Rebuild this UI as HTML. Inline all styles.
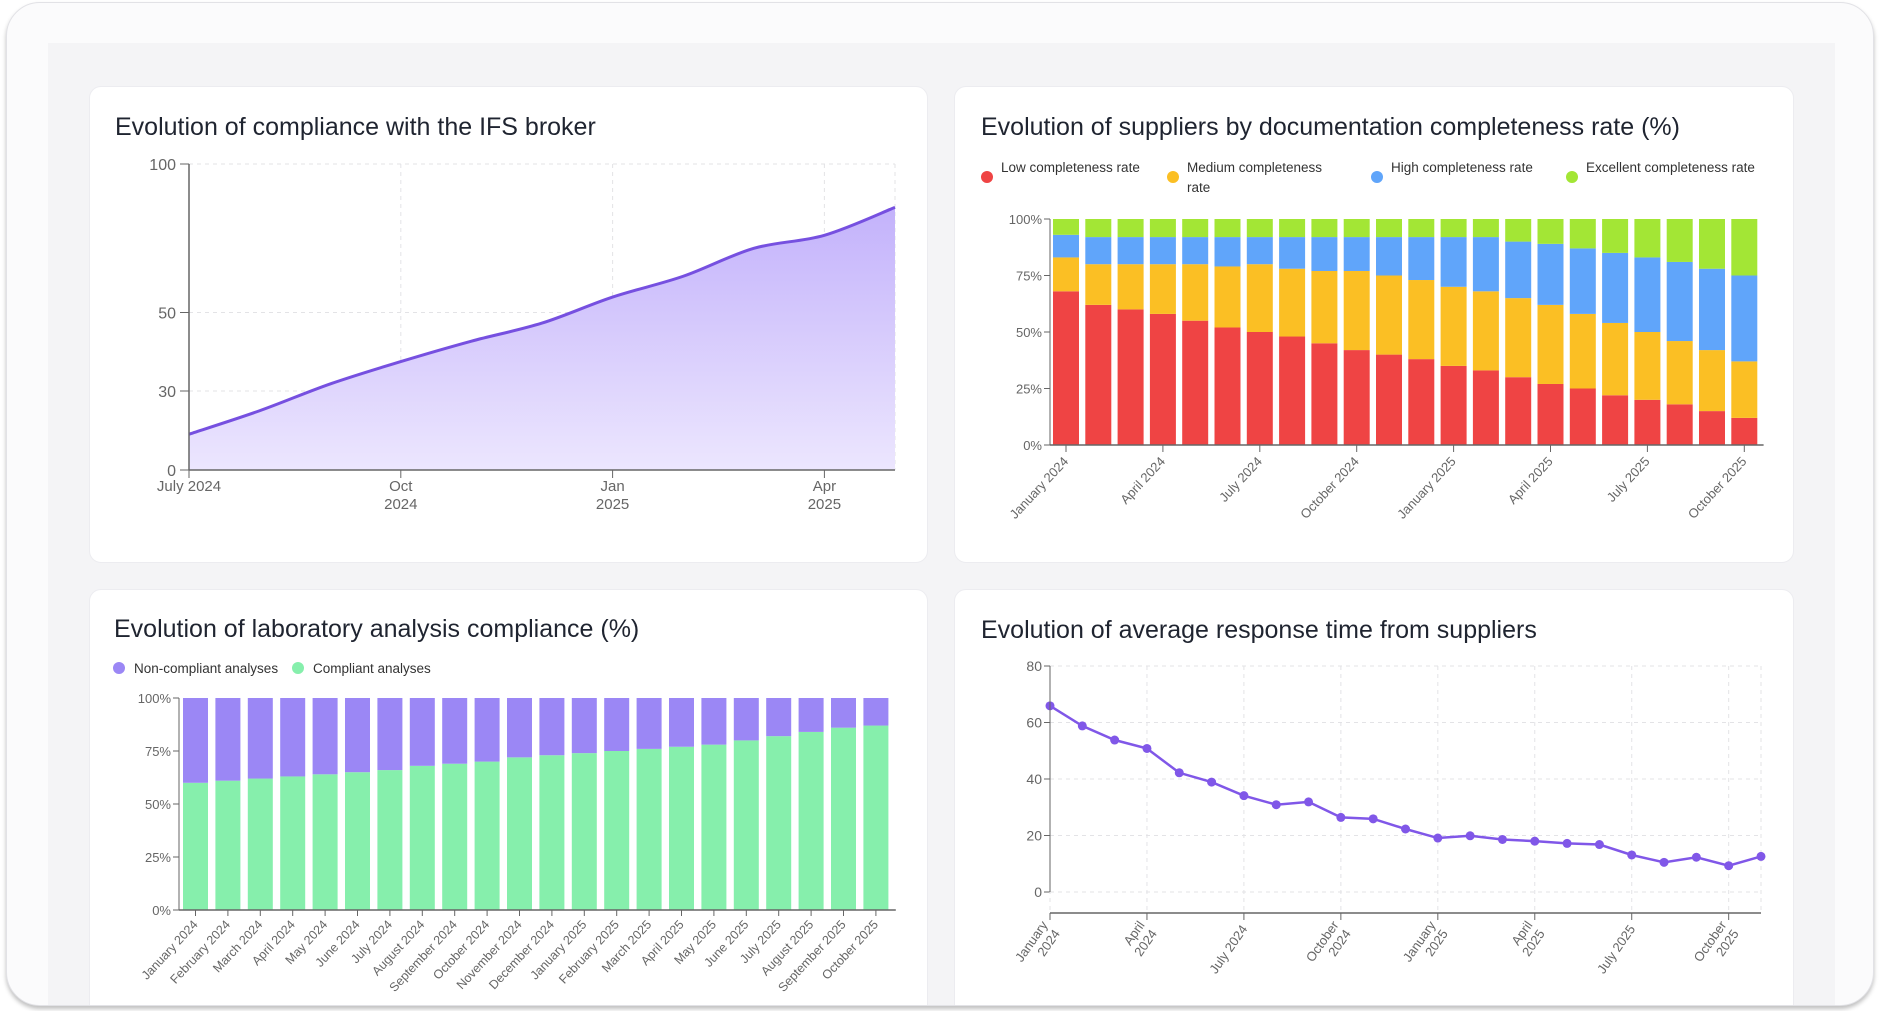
<!DOCTYPE html>
<html><head><meta charset="utf-8"><style>
html,body{margin:0;padding:0;background:#fff;width:1881px;height:1011px;overflow:hidden;font-family:"Liberation Sans",sans-serif}
#frame{position:absolute;left:6px;top:2px;width:1866px;height:1002px;border:1px solid #e2e2e6;border-radius:34px;background:#fbfbfc;box-shadow:0 3px 4px rgba(0,0,0,.25);overflow:hidden}
#inner{position:absolute;left:-7px;top:-3px;width:1881px;height:1011px}
#panel{position:absolute;left:48px;top:43px;width:1787px;height:970px;background:#f4f4f6}
.card{position:absolute;background:#fff;border:1px solid #ececf0;border-radius:12px}
svg{position:absolute;left:0;top:0}
text{font-family:"Liberation Sans",sans-serif}
</style></head><body>
<div id="frame">
<div id="inner">
<div id="panel"></div>
<div class="card" style="left:89px;top:86px;width:837px;height:475px"></div>
<div class="card" style="left:954px;top:86px;width:838px;height:475px"></div>
<div class="card" style="left:89px;top:589px;width:837px;height:430px"></div>
<div class="card" style="left:954px;top:589px;width:838px;height:430px"></div>
<svg id="s" width="1881" height="1011" xmlns="http://www.w3.org/2000/svg">
<defs><linearGradient id="g1" x1="0" y1="0" x2="0" y2="1"><stop offset="0" stop-color="#c3b2fb"/><stop offset="1" stop-color="#ece6fe"/></linearGradient></defs>
<text x="115" y="135" font-size="25" fill="#1f2430">Evolution of compliance with the IFS broker</text>
<text x="981" y="135" font-size="25" fill="#1f2430">Evolution of suppliers by documentation completeness rate (%)</text>
<text x="114" y="637" font-size="25" fill="#1f2430">Evolution of laboratory analysis compliance (%)</text>
<text x="981" y="638" font-size="25" fill="#1f2430">Evolution of average response time from suppliers</text>
</svg>
</div>
</div>
<script>
// ---- Chart 1 data ----
const c1Months=["Jul","Aug","Sep","Oct","Nov","Dec","Jan","Feb","Mar","Apr","May"];
const c1Values=[13.6,22.5,31.8,37.5,42.7,47.3,55.2,62.2,71.6,76.0,85.4];
const c1Ticks=[0,30,50,100];
const c1XLabels=[["July 2024"],["Oct","2024"],["Jan","2025"],["Apr","2025"]];
const c1XLabelIdx=[0,3,6,9];
// ---- Chart 2 data ----
const c2Cats=["January 2024","February 2024","March 2024","April 2024","May 2024","June 2024","July 2024","August 2024","September 2024","October 2024","November 2024","December 2024","January 2025","February 2025","March 2025","April 2025","May 2025","June 2025","July 2025","August 2025","September 2025","October 2025"];
const c2Low=[68,62,60,58,55,52,50,48,45,42,40,38,35,33,30,27,25,22,20,18,15,12];
const c2Med=[15,18,20,22,25,27,30,30,32,35,35,35,35,35,35,35,33,32,30,28,27,25];
const c2High=[10,12,12,12,12,13,12,14,15,15,17,19,22,24,25,27,29,31,33,35,36,38];
const c2Exc=[7,8,8,8,8,8,8,8,8,8,8,8,8,8,10,11,13,15,17,19,22,25];
const c2Ticks=[0,25,50,75,100];
// ---- Chart 3 data ----
const c3Cats=c2Cats;
const c3Compliant=[60,61,62,63,64,65,66,68,69,70,72,73,74,75,76,77,78,80,82,84,86,87];
const c3Non=[40,39,38,37,36,35,34,32,31,30,28,27,26,25,24,23,22,20,18,16,14,13];
// ---- Chart 4 data ----
const c4Values=[65.9,58.8,53.8,50.8,42.2,38.9,34.1,30.9,31.9,26.4,25.9,22.3,19.1,19.9,18.6,18.0,17.2,16.8,13.1,10.5,12.3,9.3,12.6];
const c4Ticks=[0,20,40,60,80];
const c4XLabels=[["January","2024"],["April","2024"],["July 2024"],["October","2024"],["January","2025"],["April","2025"],["July 2025"],["October","2025"]];
const c4XLabelIdx=[0,3,6,9,12,15,18,21];

const NS="http://www.w3.org/2000/svg",S=document.getElementById('s');
function mk(t,a,p){const e=document.createElementNS(NS,t);for(const k in a)e.setAttribute(k,a[k]);(p||S).appendChild(e);return e;}

// ===== Chart 1 =====
(function(){
const X0=189,X1=895,step=(X1-X0)/(c1Values.length-1);
const tickPx=[470,391,312.5,164];
const x=i=>X0+i*step;
const y=v=>{for(let k=0;k<c1Ticks.length-1;k++){if(v<=c1Ticks[k+1]){const t=(v-c1Ticks[k])/(c1Ticks[k+1]-c1Ticks[k]);return tickPx[k]+t*(tickPx[k+1]-tickPx[k]);}}return tickPx[3];};
c1Ticks.forEach((t,i)=>{
 if(t>0){const g=mk('line',{x1:X0,x2:X1,y1:y(t),y2:y(t),stroke:'#e3e3e6','stroke-dasharray':'4 4'});
 }
 mk('line',{x1:X0-9,x2:X0,y1:y(t),y2:y(t),stroke:'#666'});
 const l=mk('text',{x:X0-13,y:y(t)+6,'text-anchor':'end','font-size':16,fill:'#666'});l.textContent=t;
 
});
c1XLabelIdx.forEach((ix,j)=>{
 if(ix>0)mk('line',{x1:x(ix),x2:x(ix),y1:164,y2:470,stroke:'#e3e3e6','stroke-dasharray':'4 4'});
 mk('line',{x1:x(ix),x2:x(ix),y1:470,y2:478,stroke:'#666'});
 c1XLabels[j].forEach((s,k)=>{const l=mk('text',{x:x(ix),y:491+k*18,'text-anchor':'middle','font-size':15,fill:'#666'});l.textContent=s;
 });
});
mk('line',{x1:X1,x2:X1,y1:164,y2:470,stroke:'#e3e3e6','stroke-dasharray':'4 4'});
const pts=c1Values.map((v,i)=>[x(i),y(v)]);
let d='M'+pts[0][0]+','+pts[0][1];
for(let i=0;i<pts.length-1;i++){const p0=pts[i-1]||pts[i],p1=pts[i],p2=pts[i+1],p3=pts[i+2]||p2;
 d+=` C${p1[0]+(p2[0]-p0[0])/6},${p1[1]+(p2[1]-p0[1])/6} ${p2[0]-(p3[0]-p1[0])/6},${p2[1]-(p3[1]-p1[1])/6} ${p2[0]},${p2[1]}`;}
const a=mk('path',{d:d+` L${X1},470 L${X0},470 Z`,fill:'url(#g1)'});

const ln=mk('path',{d:d,fill:'none',stroke:'#7650e0','stroke-width':3});

mk('line',{x1:X0,x2:X0,y1:164,y2:470,stroke:'#666','stroke-width':1.5});
mk('line',{x1:X0,x2:X1,y1:470,y2:470,stroke:'#666','stroke-width':1.5});
})();

// ===== Chart 2 =====
(function(){
const X0=1050,Y0=445,Y1=219,step=32.3,bw=26,off=3;
const y=v=>Y0-(v/100)*(Y0-Y1);
const cols=['#ef4444','#fbbf24','#60a5fa','#a3e635'];
const series=[c2Low,c2Med,c2High,c2Exc];
const names=['Low completeness rate','Medium completeness','High completeness rate','Excellent completeness rate'];
const lx=[987,1173,1377,1572];
names.forEach((n,i)=>{const c=mk('circle',{cx:lx[i],cy:177,r:6,fill:cols[i]});
 const t=mk('text',{x:lx[i]+14,y:172,'font-size':13.5,fill:'#333'});t.textContent=n;});
const t2=mk('text',{x:1187,y:192,'font-size':13.5,fill:'#333'});t2.textContent='rate';
c2Ticks.forEach(t=>{mk('line',{x1:X0-6,x2:X0,y1:y(t),y2:y(t),stroke:'#666'});
 const l=mk('text',{x:X0-8,y:y(t)+5,'text-anchor':'end','font-size':13,fill:'#666'});l.textContent=t+'%';
 });
c2Cats.forEach((c,i)=>{let acc=0;const bx=X0+off+i*step;
 series.forEach((s,k)=>{const r=mk('rect',{x:bx,y:y(acc+s[i]),width:bw,height:y(acc)-y(acc+s[i]),fill:cols[k]});
 acc+=s[i];});
 if(i%3===0){const cx=bx+bw/2;mk('line',{x1:cx,x2:cx,y1:Y0,y2:Y0+7,stroke:'#666'});
 const l=mk('text',{x:cx+3,y:Y0+17,'text-anchor':'end','font-size':13,fill:'#666',transform:`rotate(-47 ${cx+3} ${Y0+17})`});l.textContent=c;
 }
});
mk('line',{x1:X0,x2:X0,y1:Y1,y2:Y0,stroke:'#666'});
mk('line',{x1:X0,x2:X0+off+22*step,y1:Y0,y2:Y0,stroke:'#666','stroke-width':1.5});
})();

// ===== Chart 3 =====
(function(){
const X0=179,Y0=910,Y1=698,step=32.4,bw=25,off=4;
const y=v=>Y0-(v/100)*(Y0-Y1);
[['Non-compliant analyses','#9b87f5',119],['Compliant analyses','#86efac',298]].forEach(e=>{
 const c=mk('circle',{cx:e[2],cy:668,r:6,fill:e[1]});
 const t=mk('text',{x:e[2]+15,y:673,'font-size':13.5,fill:'#333'});t.textContent=e[0];});
c2Ticks.forEach(t=>{mk('line',{x1:X0-6,x2:X0,y1:y(t),y2:y(t),stroke:'#666'});
 const l=mk('text',{x:X0-8,y:y(t)+5,'text-anchor':'end','font-size':13,fill:'#666'});l.textContent=t+'%';
 });
c3Cats.forEach((c,i)=>{const bx=X0+off+i*step;
 const g=mk('rect',{x:bx,y:y(c3Compliant[i]),width:bw,height:Y0-y(c3Compliant[i]),fill:'#86efac'});
 
 const p=mk('rect',{x:bx,y:y(c3Compliant[i]+c3Non[i]),width:bw,height:y(c3Compliant[i])-y(c3Compliant[i]+c3Non[i]),fill:'#9b87f5'});
 
 const cx=bx+bw/2;mk('line',{x1:cx,x2:cx,y1:Y0,y2:Y0+6,stroke:'#666'});
 const l=mk('text',{x:cx+3,y:Y0+15,'text-anchor':'end','font-size':12.5,fill:'#666',transform:`rotate(-47 ${cx+3} ${Y0+15})`});l.textContent=c;
 });
mk('line',{x1:X0,x2:X0,y1:Y1,y2:Y0,stroke:'#666'});
mk('line',{x1:X0,x2:X0+off+22*step,y1:Y0,y2:Y0,stroke:'#666','stroke-width':1.5});
})();

// ===== Chart 4 =====
(function(){
const X0=1050,X1=1761,YT=666,YB=892,AX=913,step=(X1-X0)/(c4Values.length-1);
const x=i=>X0+i*step,y=v=>YB-(v/80)*(YB-YT);
c4Ticks.forEach(t=>{mk('line',{x1:X0,x2:X1,y1:y(t),y2:y(t),stroke:'#e3e3e6','stroke-dasharray':'4 4'});
 mk('line',{x1:X0-6,x2:X0,y1:y(t),y2:y(t),stroke:'#666'});
 const l=mk('text',{x:X0-8,y:y(t)+5,'text-anchor':'end','font-size':14,fill:'#666'});l.textContent=t;
 });
c4XLabelIdx.forEach((ix,j)=>{const cx=x(ix);
 mk('line',{x1:cx,x2:cx,y1:YT,y2:AX,stroke:'#e3e3e6','stroke-dasharray':'4 4'});
 mk('line',{x1:cx,x2:cx,y1:AX,y2:AX+7,stroke:'#666'});
 const lines=c4XLabels[j];
 const ax=cx+4, ay=AX+16;
 const g=mk('g',{transform:`rotate(-55 ${ax} ${ay})`});
 lines.forEach((s,k)=>{
  const dy=(k-(lines.length-1))*15+ (lines.length>1?8:0);
  const l=mk('text',{x:ax,y:ay+dy,'text-anchor':'end','font-size':13,fill:'#666'},g);
  l.textContent=s;});
});
mk('line',{x1:X1,x2:X1,y1:YT,y2:AX,stroke:'#e3e3e6','stroke-dasharray':'4 4'});
const d=c4Values.map((v,i)=>(i?'L':'M')+x(i)+','+y(v)).join(' ');
const ln=mk('path',{d:d,fill:'none',stroke:'#8057e8','stroke-width':2.5});

c4Values.forEach((v,i)=>{const c=mk('circle',{cx:x(i),cy:y(v),r:4.5,fill:'#8057e8'});
 });
mk('line',{x1:X0,x2:X0,y1:YT,y2:YB,stroke:'#666'});
mk('line',{x1:X0,x2:X1,y1:AX,y2:AX,stroke:'#666','stroke-width':1.5});
})();
</script>
</body></html>
